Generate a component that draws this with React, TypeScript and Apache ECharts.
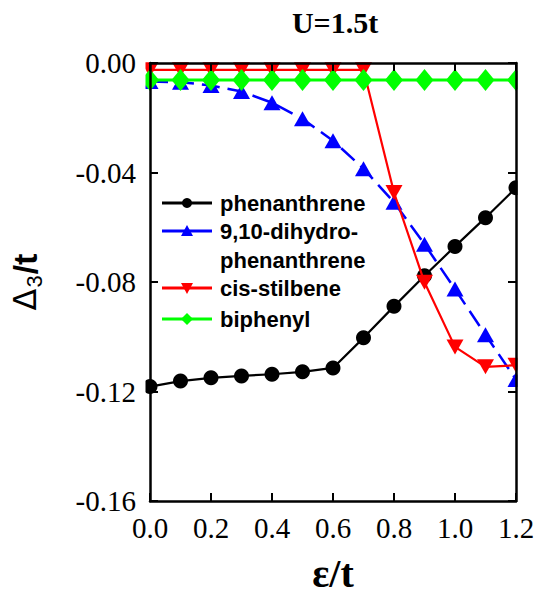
import React, { useEffect, useRef } from "react";
import * as echarts from "echarts";

const xs = [0, 0.1, 0.2, 0.3, 0.4, 0.5, 0.6, 0.7, 0.8, 0.9, 1.0, 1.1, 1.2];
const seriesNames = ["phenanthrene", "9,10-dihydro-\nphenanthrene", "cis-stilbene", "biphenyl"];
const phenanthrene = [-0.1182, -0.1162, -0.115, -0.1143, -0.1137, -0.1128, -0.1114, -0.1004, -0.0889, -0.0777, -0.067, -0.0565, -0.0456];
const dihydrophenanthrene = [-0.0068, -0.007, -0.0082, -0.0104, -0.0145, -0.0204, -0.0284, -0.0386, -0.0509, -0.0662, -0.0826, -0.0993, -0.1156];
const cisStilbene = [-0.0025, -0.0025, -0.0025, -0.0025, -0.0025, -0.0025, -0.0025, -0.0025, -0.0473, -0.0801, -0.1037, -0.111, -0.1104];
const biphenyl = [-0.0062, -0.0062, -0.0062, -0.0062, -0.0062, -0.0062, -0.0062, -0.0062, -0.0062, -0.0062, -0.0062, -0.0062, -0.0062];
const colors = ["#000000", "#0000ff", "#ff0000", "#00ff00"];
const xTicks = { min: 0, max: 1.2, interval: 0.2 };
const yTicks = { min: -0.16, max: 0, interval: 0.04 };
const titleText = "U=1.5t";

const GL = 147, GT = 63, GR = 516, GB = 503;

export default function App() {
  const ref = useRef<HTMLDivElement>(null);
  useEffect(() => {
    if (!ref.current) return;
    const chart = echarts.init(ref.current, null, { renderer: "svg" });
    const pair = (vals: number[]) => xs.map((x, i) => [x, vals[i]]);
    const serif = "Liberation Serif";
    const sans = "Liberation Sans";
    const axisLine = { show: true, onZero: false, lineStyle: { color: "#000", width: 2.5 } };
    const tick = { show: true, inside: true, length: 8, lineStyle: { color: "#000", width: 2 } };
    const datasets = [phenanthrene, dihydrophenanthrene, cisStilbene, biphenyl];
    const symbols = ["circle", "triangle", "triangle", "diamond"];
    const sizes: any[] = [15, [17, 15], [17, 15], [18, 22]];
    const rotates = [0, 0, 180, 0];
    const widths = [2.2, 2.5, 2.2, 3];

    const legendRows = [
      { y: 203, idx: 0 },
      { y: 231, idx: 1 },
      { y: 288, idx: 2 },
      { y: 319, idx: 3 },
    ];
    const legendEls: any[] = [];
    legendRows.forEach((r) => {
      const c = colors[r.idx];
      legendEls.push({
        type: "line",
        shape: { x1: 162, y1: r.y, x2: 212, y2: r.y },
        style: { stroke: c, lineWidth: 3 },
        z: 20,
      });
      if (r.idx === 0) {
        legendEls.push({ type: "circle", shape: { cx: 187, cy: r.y, r: 5 }, style: { fill: c }, z: 21 });
      } else if (r.idx === 1) {
        legendEls.push({ type: "polygon", shape: { points: [[187, r.y - 6], [181, r.y + 5], [193, r.y + 5]] }, style: { fill: c }, z: 21 });
      } else if (r.idx === 2) {
        legendEls.push({ type: "polygon", shape: { points: [[187, r.y + 6], [181, r.y - 5], [193, r.y - 5]] }, style: { fill: c }, z: 21 });
      } else {
        legendEls.push({ type: "polygon", shape: { points: [[187, r.y - 6], [193, r.y], [187, r.y + 6], [181, r.y]] }, style: { fill: c }, z: 21 });
      }
      legendEls.push({
        type: "text",
        x: 220,
        y: r.idx === 1 ? r.y - 14.5 : r.y,
        style: {
          text: seriesNames[r.idx],
          fill: "#000",
          fontFamily: sans,
          fontWeight: "bold",
          fontSize: 22,
          lineHeight: 29,
          verticalAlign: r.idx === 1 ? "top" : "middle",
        },
        z: 21,
      });
    });

    const masks = [
      { x: 0, y: 42, width: GL - 1.5, height: 480 },
      { x: GR + 1.5, y: 42, width: 40, height: 480 },
      { x: GL - 10, y: 42, width: GR - GL + 20, height: GT - 1.5 - 42 },
    ].map((s) => ({ type: "rect", shape: s, style: { fill: "#fff" }, z: 5, silent: true }));

    const titleEl = {
      type: "text",
      x: 335,
      y: 22,
      style: {
        text: titleText,
        fill: "#000",
        fontFamily: serif,
        fontWeight: "bold",
        fontSize: 30,
        align: "center",
        verticalAlign: "middle",
      },
      z: 30,
    };

    chart.setOption({
      animation: false,
      backgroundColor: "#fff",
      grid: { left: GL, top: GT, right: 539 - GR, bottom: 598 - GB, containLabel: false },
      xAxis: [
        {
          type: "value",
          position: "bottom",
          ...xTicks,
          z: 10,
          axisLine,
          axisTick: tick,
          splitLine: { show: false },
          axisLabel: {
            margin: 12,
            color: "#000",
            fontFamily: serif,
            fontSize: 29,
            formatter: (v: number) => v.toFixed(1),
          },
          name: "ε/t",
          nameLocation: "middle",
          nameGap: 52,
          nameTextStyle: { fontFamily: serif, fontWeight: "bold", fontSize: 40, color: "#000" },
        },
        {
          type: "value",
          position: "top",
          ...xTicks,
          z: 10,
          axisLine,
          axisTick: tick,
          axisLabel: { show: false },
          splitLine: { show: false },
        },
      ],
      yAxis: [
        {
          type: "value",
          position: "left",
          ...yTicks,
          z: 10,
          axisLine,
          axisTick: tick,
          splitLine: { show: false },
          axisLabel: {
            margin: 14,
            color: "#000",
            fontFamily: serif,
            fontSize: 29,
            formatter: (v: number) => (Math.abs(v) < 1e-9 ? "0.00" : v.toFixed(2)),
          },
          name: "{a|Δ}{b|3}{c|/t}",
          nameLocation: "middle",
          nameRotate: 90,
          nameGap: 105,
          nameTextStyle: {
            color: "#000",
            rich: {
              a: { fontFamily: "DejaVu Sans", fontSize: 32, color: "#000" },
              b: { fontFamily: sans, fontSize: 22, color: "#000", padding: [18, 1, 0, 1] },
              c: { fontFamily: sans, fontWeight: "bold", fontSize: 34, color: "#000" },
            },
          },
        },
        {
          type: "value",
          position: "right",
          ...yTicks,
          z: 10,
          axisLine,
          axisTick: tick,
          axisLabel: { show: false },
          splitLine: { show: false },
        },
      ],
      graphic: [...masks, ...legendEls, titleEl],
      series: datasets.map((d, i) => ({
        type: "line",
        name: seriesNames[i],
        data: pair(d),
        xAxisIndex: 0,
        yAxisIndex: 0,
        symbol: symbols[i],
        symbolSize: sizes[i],
        symbolRotate: rotates[i],
        z: 2 + i * 0.1,
        clip: false,
        itemStyle: { color: colors[i] },
        lineStyle: { color: colors[i], width: widths[i], type: i === 1 ? [18, 8] : "solid" },
      })),
    });
    return () => chart.dispose();
  }, []);
  return <div ref={ref} style={{ width: 539, height: 598, position: "absolute", left: 0, top: 0 }} />;
}
